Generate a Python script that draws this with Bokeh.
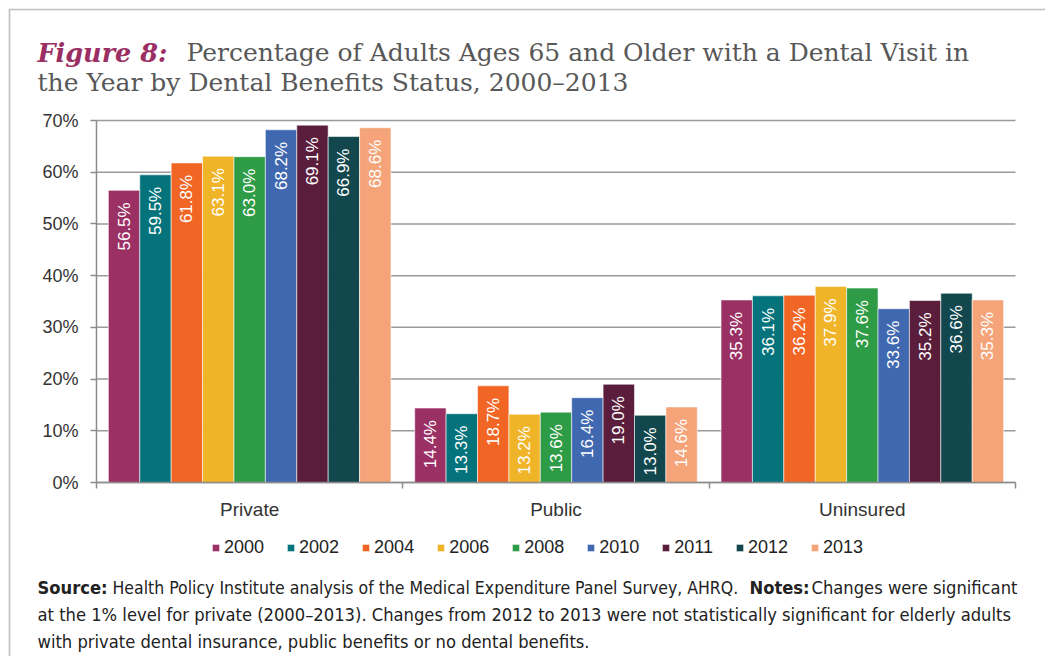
from math import pi

from bokeh.core.properties import value
from bokeh.embed import file_html
from bokeh.models import (BoxAnnotation, ColumnDataSource, FixedTicker, Label,
                          Legend, LegendItem, PrintfTickFormatter, Range1d)
from bokeh.plotting import figure
from bokeh.resources import INLINE
from bokeh.transform import dodge

# ---- data -----------------------------------------------------------------
categories = ["Private", "Public", "Uninsured"]
years = ["2000", "2002", "2004", "2006", "2008", "2010", "2011", "2012", "2013"]
private = [56.5, 59.5, 61.8, 63.1, 63.0, 68.2, 69.1, 66.9, 68.6]
public = [14.4, 13.3, 18.7, 13.2, 13.6, 16.4, 19.0, 13.0, 14.6]
uninsured = [35.3, 36.1, 36.2, 37.9, 37.6, 33.6, 35.2, 36.6, 35.3]
y_ticks = [0, 10, 20, 30, 40, 50, 60, 70]
year_colors = ["#9B3065", "#04737B", "#F26625", "#F0B429", "#2E9B46",
               "#3F68B0", "#5A1E3C", "#11474D", "#F5A47A"]

# ---- page geometry --------------------------------------------------------
# The frame fills the whole page; the chart area sits inside it so that the
# heading, legend and notes can be drawn around it on the same canvas.
W, H = 1045, 656
CL, CR, CT, CB = 96, 1015, 120, 482      # chart area on the page, pixels
Y_MAX = y_ticks[-1]
n_cat = len(categories)
px_x = (CR - CL) / n_cat
px_y = (CB - CT) / Y_MAX
x_range = Range1d(-CL / px_x, n_cat + (W - CR) / px_x)
y_range = Range1d(-(H - CB) / px_y, Y_MAX + CT / px_y)

SANS = "Liberation Sans"
SERIF = "DejaVu Serif"
NARROW = "'Liberation Sans Narrow', 'DejaVu Sans Condensed', 'Liberation Sans', sans-serif"
AXIS_GREY = "#8c8c8c"

p = figure(width=W, height=H, x_range=x_range, y_range=y_range,
           output_backend="svg", toolbar_location=None, min_border=0)
p.outline_line_color = None
p.background_fill_color = "white"
p.border_fill_color = "white"
p.grid.visible = False

# horizontal grid lines, limited to the width of the chart area
p.segment(x0=0, x1=n_cat, y0=y_ticks, y1=y_ticks,
          line_color="#9a9a9a", line_width=1.5)

# y axis, pinned to the left edge of the chart area
p.yaxis.fixed_location = 0
p.yaxis.bounds = (0, Y_MAX)
p.yaxis.ticker = FixedTicker(ticks=y_ticks)
p.yaxis.formatter = PrintfTickFormatter(format="%d%%")
p.yaxis.axis_line_color = AXIS_GREY
p.yaxis.axis_line_width = 1.5
p.yaxis.major_tick_line_color = AXIS_GREY
p.yaxis.major_tick_line_width = 1.5
p.yaxis.major_tick_out = 6
p.yaxis.major_tick_in = 0
p.yaxis.minor_tick_line_color = None
p.yaxis.major_label_standoff = 12
p.yaxis.major_label_text_font = SANS
p.yaxis.major_label_text_font_size = "18px"
p.yaxis.major_label_text_color = "#333333"

# x axis at 0%: labels at group centres, tick marks at group boundaries
centres = [i + 0.5 for i in range(n_cat)]
bounds = [i for i in range(n_cat + 1)]
p.xaxis.fixed_location = 0
p.xaxis.bounds = (0, n_cat)
p.xaxis.ticker = FixedTicker(ticks=centres, minor_ticks=bounds)
p.xaxis.major_label_overrides = {c: name for c, name in zip(centres, categories)}
p.xaxis.axis_line_color = AXIS_GREY
p.xaxis.axis_line_width = 1.5
p.xaxis.major_tick_line_color = None
p.xaxis.minor_tick_line_color = AXIS_GREY
p.xaxis.minor_tick_line_width = 1.5
p.xaxis.minor_tick_out = 6
p.xaxis.minor_tick_in = 0
p.xaxis.major_label_standoff = 10
p.xaxis.major_label_text_font = SANS
p.xaxis.major_label_text_font_size = "19px"
p.xaxis.major_label_text_color = "#333333"

# ---- bars -------------------------------------------------------------------
bar_w = 0.1025
items = []
for j, (yr, col) in enumerate(zip(years, year_colors)):
    tops = [private[j], public[j], uninsured[j]]
    src = ColumnDataSource(dict(
        x=centres, top=tops, label=[f"{v:.1f}%" for v in tops]))
    off = (j - (len(years) - 1) / 2) * bar_w
    r = p.vbar(x=dodge("x", off, range=p.x_range), top="top", bottom=0,
               width=bar_w, source=src, fill_color=col,
               line_color="white", line_width=0.8, line_alpha=0.7)
    p.text(x=dodge("x", off, range=p.x_range), y="top", text="label",
           source=src, angle=pi / 2, text_align="right",
           text_baseline="middle", y_offset=12, text_color="white",
           text_font=value(SANS), text_font_size="17px")
    items.append(LegendItem(label=yr, renderers=[r]))


def at(cx, cy):
    """Page pixel position (from the top-left) -> screen units of the frame."""
    return dict(x=cx, y=H - cy, x_units="screen", y_units="screen")


legend = Legend(items=items, orientation="horizontal",
                location=(211, H - 558),
                glyph_width=9, glyph_height=9, label_standoff=4, spacing=22,
                padding=0, margin=0, border_line_color=None,
                background_fill_alpha=0, label_text_font=SANS,
                label_text_font_size="18px", label_text_color="#222222")
p.add_layout(legend)

# ---- rule around the page ----------------------------------------------------
p.add_layout(BoxAnnotation(left=9, right=W + 50, top=H - 9, bottom=-50,
                           left_units="screen", right_units="screen",
                           top_units="screen", bottom_units="screen",
                           fill_alpha=0, line_color="#2a2a2a", line_width=1.6))

# ---- heading ----------------------------------------------------------------
p.add_layout(Label(text="Figure 8:", text_font=SERIF, text_font_size="25.5px",
                   text_font_style="bold italic", text_color="#9B2F63",
                   text_baseline="alphabetic", **at(37, 52)))
p.add_layout(Label(text="Percentage of Adults Ages 65 and Older with a Dental Visit in",
                   text_font=SERIF, text_font_size="25px", text_color="#585858",
                   text_baseline="alphabetic", **at(186, 52)))
p.add_layout(Label(text="the Year by Dental Benefits Status, 2000\u20132013",
                   text_font=SERIF, text_font_size="25px", text_color="#585858",
                   text_baseline="alphabetic", **at(37, 82)))

# ---- source notes -----------------------------------------------------------
notes = [
    (37, 587, "Source:", "bold", 18.2),
    (112, 587, "Health Policy Institute analysis of the Medical Expenditure Panel Survey, AHRQ.", "normal", 17.5),
    (749, 587, "Notes:", "bold", 18.2),
    (811, 587, "Changes were significant", "normal", 18.2),
    (37, 614, "at the 1% level for private (2000\u20132013). Changes from 2012 to 2013 "
              "were not statistically significant for elderly adults", "normal", 18.2),
    (37, 641, "with private dental insurance, public benefits or no dental benefits.", "normal", 18.2),
]
for cx, cy, txt, style, size in notes:
    p.add_layout(Label(text=txt, text_font=NARROW, text_font_size=f"{size}px",
                       text_font_style=style, text_color="#222222",
                       text_baseline="alphabetic", **at(cx, cy)))

open("out.html", "w").write(file_html(p, INLINE))
